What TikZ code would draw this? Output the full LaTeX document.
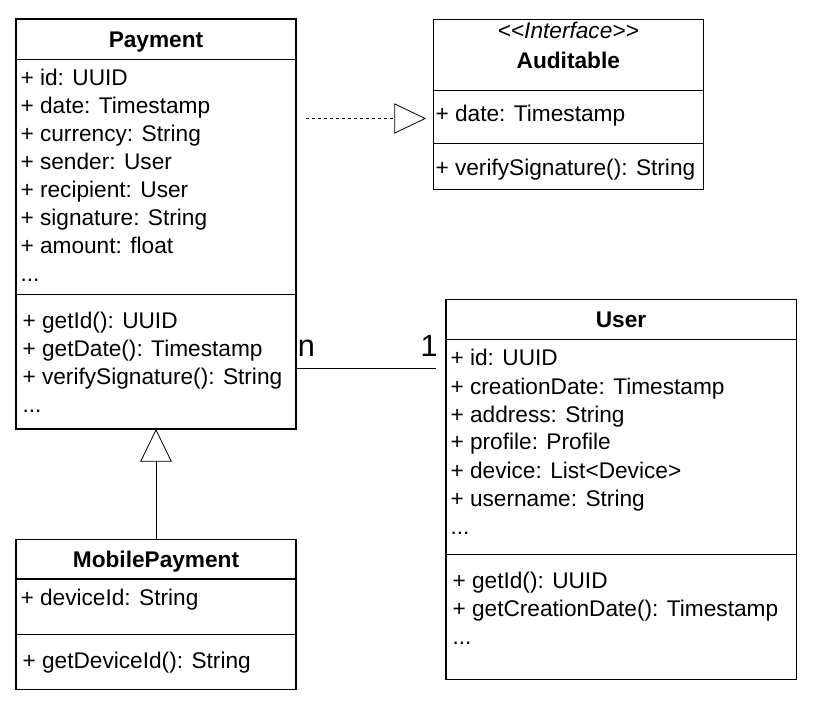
\documentclass[tikz,border=0pt]{standalone}
\usepackage{fontspec}
\setmainfont{Liberation Sans}
\usetikzlibrary{arrows.meta}

\tikzset{every picture/.style={line width=0.8pt}}
\tikzset{
	classbox/.style n args={2}{draw, inner sep=0pt, outer sep=0pt, anchor=north west, minimum width=#1, minimum height=#2},
	member/.style={anchor=base west, inner sep=0pt, font=\fontsize{17}{20.4}\selectfont},
	classname/.style={anchor=base, inner sep=0pt, font=\fontsize{17}{20.4}\selectfont\bfseries},
	stereo/.style={anchor=base, inner sep=0pt, font=\fontsize{17}{20.4}\selectfont\itshape},
	mult/.style={anchor=base, inner sep=0pt, font=\fontsize{23}{27}\selectfont},
	realizes/.style={line width=0.6pt, dash pattern={on 2.25pt off 2.25pt}, -{Triangle[open,length=23.8pt,width=22.7pt]}},
	inherits/.style={line width=0.75pt, -{Triangle[open,length=24.5pt,width=23.7pt,line width=0.6pt]}},
}

\begin{document}
\begin{tikzpicture}[x=0.75pt,y=0.75pt,yscale=-1,xscale=1]
	\useasboundingbox (0,0) rectangle (815,706);

	%Shape: Class Payment
	\node[classbox={210pt}{307.5pt}] (payment) at (16,19) {};
	\draw (payment.west |- 0,59.3) -- (payment.east |- 0,59.3) ;
	\draw (payment.west |- 0,294.7) -- (payment.east |- 0,294.7) ;
	%Shape: Class Auditable
	\node[classbox={202.5pt}{127.5pt}] (auditable) at (433.3,19.3) {};
	\draw (auditable.west |- 0,90.7) -- (auditable.east |- 0,90.7) ;
	\draw (auditable.west |- 0,143.3) -- (auditable.east |- 0,143.3) ;
	%Shape: Class User
	\node[classbox={262.7pt}{284.8pt}] (user) at (446,299.3) {};
	\draw (user.west |- 0,339.3) -- (user.east |- 0,339.3) ;
	\draw (user.west |- 0,554.3) -- (user.east |- 0,554.3) ;
	%Shape: Class MobilePayment
	\node[classbox={210pt}{112.5pt}] (mobile) at (16,539.3) {};
	\draw (mobile.west |- 0,579) -- (mobile.east |- 0,579) ;
	\draw (mobile.west |- 0,634.3) -- (mobile.east |- 0,634.3) ;

	%Straight Lines: realization
	\coordinate (realTail) at (306,118.5);
	\coordinate (realHead) at (426,118.5);
	\draw[realizes] (realTail) -- (realHead) ;
	%Straight Lines: inheritance
	\draw[inherits] (mobile.north) -- (payment.south) ;
	%Straight Lines: association
	\coordinate (assocEnd) at (436,368.8);
	\draw (payment.east |- assocEnd) -- (assocEnd) ;

	% Text Node
	\node[mult] (multN) at (306.3,356.7) {n};
	% Text Node
	\node[mult] (multOne) at (429.2,356.7) {1};

	% Text Node
	\node[classname] (payName) at (156,47.5) {Payment};
	% Text Node
	\node[member] (payId) at (20,86) {+ id: UUID};
	% Text Node
	\node[member] (payDate) at (20,114) {+ date: Timestamp};
	% Text Node
	\node[member] (payCurrency) at (20,142) {+ currency: String};
	% Text Node
	\node[member] (paySender) at (20,170) {+ sender: User};
	% Text Node
	\node[member] (payRecipient) at (20,198) {+ recipient: User};
	% Text Node
	\node[member] (paySignature) at (20,226) {+ signature: String};
	% Text Node
	\node[member] (payAmount) at (20,254) {+ amount: float};
	% Text Node
	\node[member] (payMore) at (20,282) {...};
	% Text Node
	\node[member] (payGetId) at (22,328.3) {+ getId(): UUID};
	% Text Node
	\node[member] (payGetDate) at (22,356.3) {+ getDate(): Timestamp};
	% Text Node
	\node[member] (payVerify) at (22,384.3) {+ verifySignature(): String};
	% Text Node
	\node[member] (payMoreOps) at (22,412.3) {...};

	% Text Node
	\node[stereo] (audStereo) at (568.3,38.3) {<{}<Interface>{}>};
	% Text Node
	\node[classname] (audName) at (568.3,68.3) {Auditable};
	% Text Node
	\node[member] (audDate) at (435,121.7) {+ date: Timestamp};
	% Text Node
	\node[member] (audVerify) at (435,175.5) {+ verifySignature(): String};

	% Text Node
	\node[classname] (userName) at (621,327.3) {User};
	% Text Node
	\node[member] (userId) at (450,366) {+ id: UUID};
	% Text Node
	\node[member] (userCreation) at (450,394) {+ creationDate: Timestamp};
	% Text Node
	\node[member] (userAddress) at (450,422) {+ address: String};
	% Text Node
	\node[member] (userProfile) at (450,450) {+ profile: Profile};
	% Text Node
	\node[member] (userDevice) at (450,478) {+ device: List<Device>};
	% Text Node
	\node[member] (userUsername) at (450,506) {+ username: String};
	% Text Node
	\node[member] (userMore) at (450,534) {...};
	% Text Node
	\node[member] (userGetId) at (452,588) {+ getId(): UUID};
	% Text Node
	\node[member] (userGetCreation) at (452,616) {+ getCreationDate(): Timestamp};
	% Text Node
	\node[member] (userMoreOps) at (452,644) {...};

	% Text Node
	\node[classname] (mobName) at (156,567.3) {MobilePayment};
	% Text Node
	\node[member] (mobDeviceId) at (20,605) {+ deviceId: String};
	% Text Node
	\node[member] (mobGetDeviceId) at (22,668.3) {+ getDeviceId(): String};

\end{tikzpicture}
\end{document}
